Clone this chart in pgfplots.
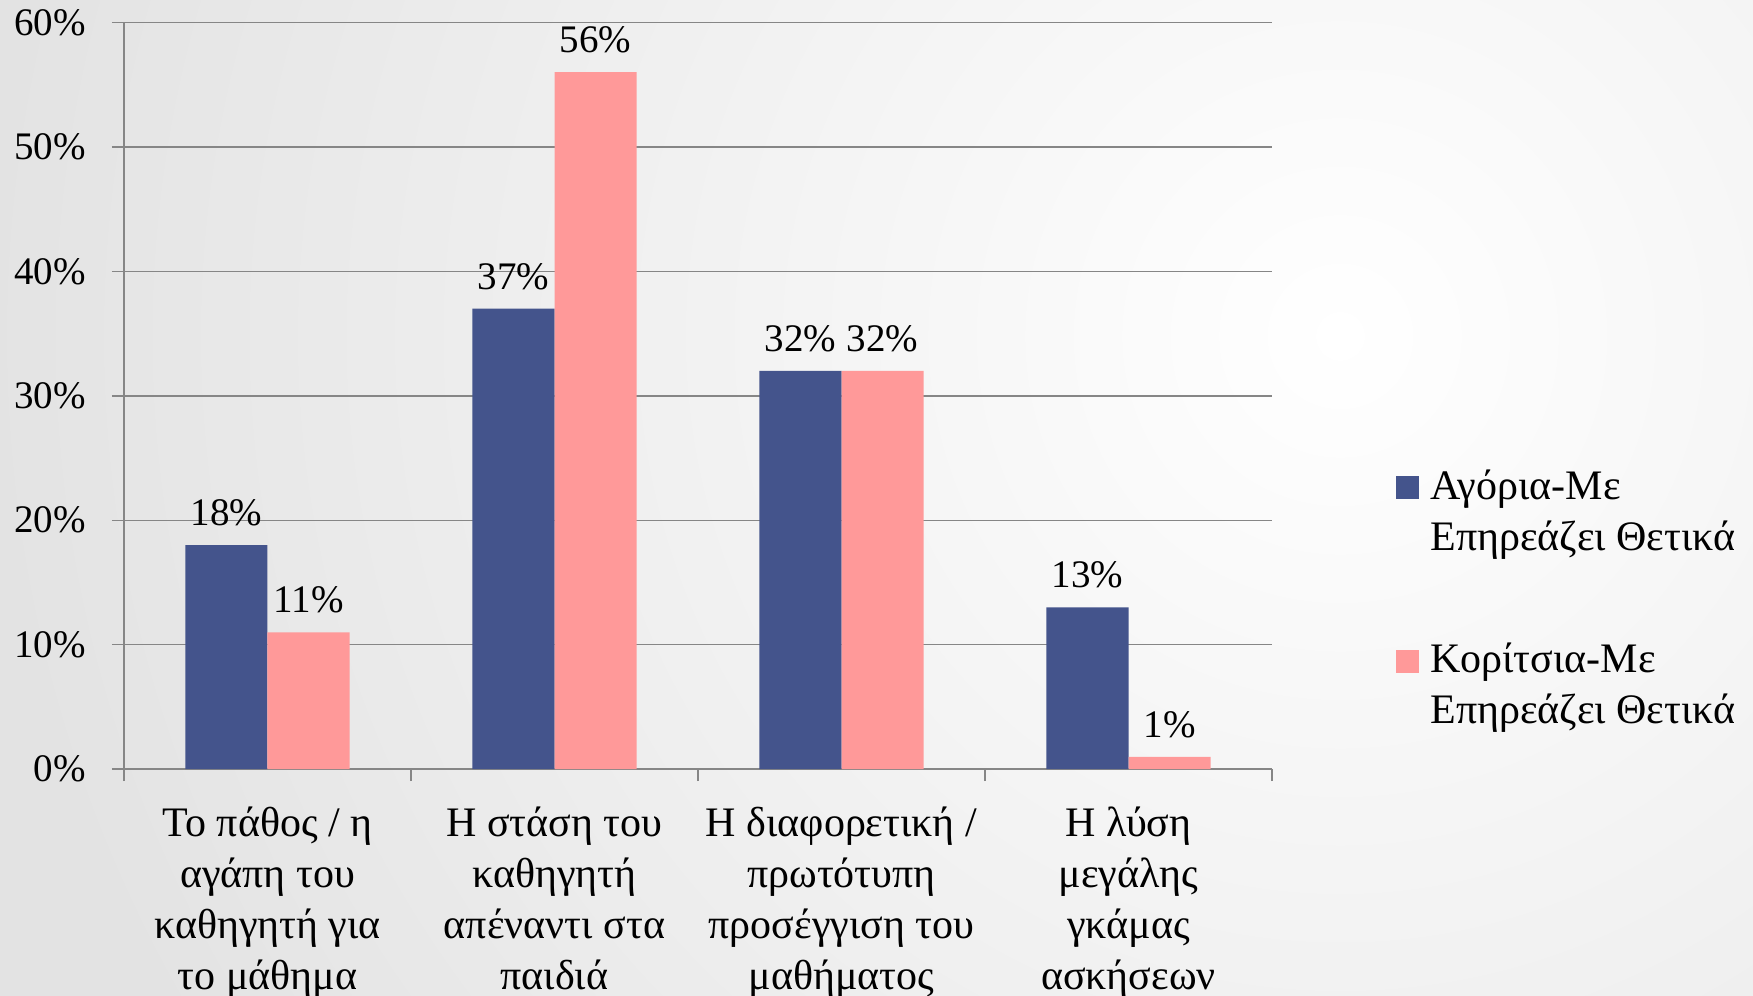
\documentclass[border=0pt]{standalone}
\usepackage{pgfplots}
\pgfplotsset{compat=1.18}
\usepackage{fontspec}
\setmainfont{Liberation Serif}
\definecolor{barblue}{RGB}{68,84,140}
\definecolor{barpink}{RGB}{255,153,153}
\definecolor{axgray}{RGB}{134,134,134}
\newcommand{\numfont}{\fontsize{19.5}{25.5}\selectfont}
\newcommand{\txtfont}{\fontsize{21}{25.5}\selectfont}
\pgfplotsset{sqlegend/.style={legend image code/.code={\fill[##1] (0pt,25.5pt) rectangle (11.5pt,37pt);}}}
\begin{document}
\begin{tikzpicture}
\useasboundingbox (0,0) rectangle (876.5pt,498pt);
\begin{scope}
\clip (0,0) rectangle (876.5pt,498pt);
\fill[gray!22] (0,0) rectangle (876.5pt,498pt);
\shade[inner color=white, outer color=gray!22] (670pt,330pt) circle (680pt);
\end{scope}
\begin{axis}[
  at={(62pt,113.4pt)}, anchor=south west,
  scale only axis, width=574pt, height=373.4pt,
  xmin=-0.5, xmax=3.5, ymin=0, ymax=60,
  axis lines*=left,
  axis line style={draw=axgray, line width=0.75pt},
  ybar=0pt, bar width=0.286,
  ytick={0,10,...,60},
  yticklabel={\pgfmathprintnumber{\tick}\%},
  /pgf/number format/assume math mode=true,
  ymajorgrids,
  grid style={axgray, line width=0.75pt},
  tick style={axgray, line width=0.75pt},
  tick align=outside, major tick length=6pt,
  xtick={-0.5,0.5,1.5,2.5,3.5}, xticklabels={},
  extra x ticks={0,1,2,3},
  extra x tick labels={{Το πάθος / η\\αγάπη του\\καθηγητή για\\το μάθημα},
    {Η στάση του\\καθηγητή\\απέναντι στα\\παιδιά},
    {Η διαφορετική /\\πρωτότυπη\\προσέγγιση του\\μαθήματος},
    {Η λύση\\μεγάλης\\γκάμας\\ασκήσεων}},
  extra x tick style={major tick length=0pt, grid=none},
  xticklabel style={align=center, font=\txtfont, text=black, yshift=-15.5pt},
  yticklabel style={font=\numfont, text=black, xshift=-9.5pt},
  nodes near coords={\pgfmathprintnumber{\pgfplotspointmeta}\%},
  every node near coord/.append style={font=\numfont, text=black, yshift=6pt},
  legend style={at={(1.108,0.407)}, anchor=north west, draw=none, fill=none,
    inner sep=0pt, font=\txtfont,
    cells={anchor=base west, align=left},
    row sep=41pt,
    /tikz/every odd column/.append style={column sep=3.5pt}},
]
\addplot[fill=barblue, draw=none, sqlegend]
  coordinates {(0,18) (1,37) (2,32) (3,13)};
\addplot[fill=barpink, draw=none, sqlegend]
  coordinates {(0,11) (1,56) (2,32) (3,1)};
\legend{{Αγόρια-Με\\Επηρεάζει Θετικά},{Κορίτσια-Με\\Επηρεάζει Θετικά}}
\end{axis}
\end{tikzpicture}
\end{document}
